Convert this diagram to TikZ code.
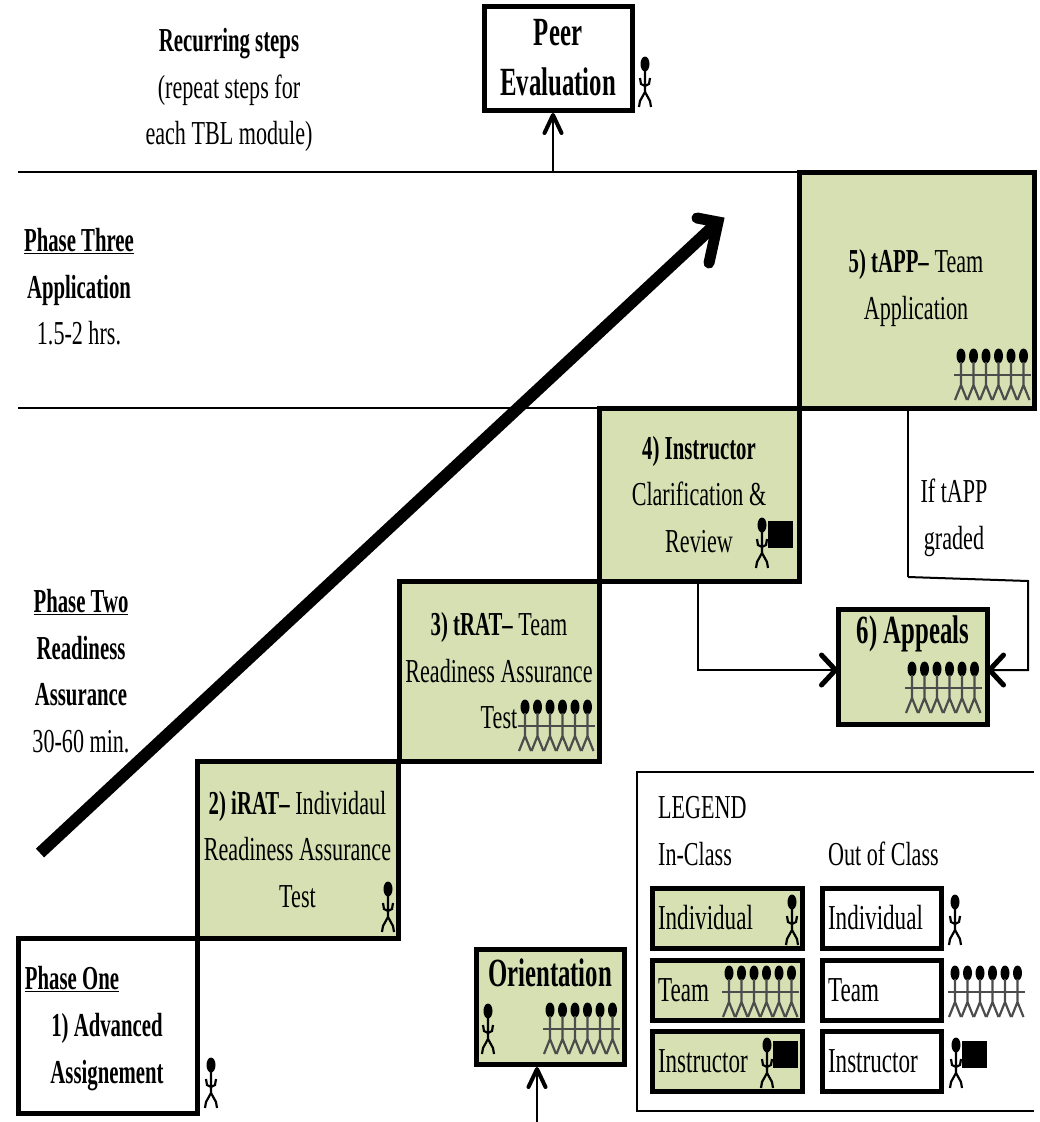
\documentclass[tikz,border=0pt]{standalone}
\usepackage{fontspec}
\setmainfont[FakeStretch=.66,BoldFeatures={FakeStretch=.62}]{Liberation Serif}
\usepackage{tikz}
\usetikzlibrary{positioning,calc}
\usetikzlibrary{arrows.meta}
\definecolor{StepGreen}{RGB}{214,224,178}
\tikzset{
txt/.style={align=center,inner sep=0pt,font=\fontsize{33.5}{46.5}\selectfont},
bigtxt/.style={align=center,inner sep=0pt,font=\bfseries\fontsize{40}{50}\selectfont},
stepin/.style={draw=black,fill=StepGreen,line width=5pt,inner sep=0pt,outer sep=0pt,align=center,font=\fontsize{33.5}{46.5}\selectfont},
stepout/.style={draw=black,fill=white,line width=5pt,inner sep=0pt,outer sep=0pt,align=center,font=\fontsize{33.5}{46.5}\selectfont},
keyin/.style={stepin,line width=5pt,minimum width=150pt,minimum height=60pt,align=left,text width=138pt,font=\fontsize{35}{46.5}\selectfont},
keyout/.style={stepout,line width=5pt,minimum width=119pt,minimum height=60pt,align=left,text width=108pt,font=\fontsize{35}{46.5}\selectfont},
rule/.style={draw=black,line width=2.5pt},
link/.style={draw=black,line width=2pt},
bigtip/.style={-{Straight Barb[length=14pt,width=30pt,line width=5pt,round]}},
smalltip/.style={-{Straight Barb[length=18pt,width=17pt,line width=4pt,round]}},
rise/.style={draw=black,line width=12pt},
risehead/.style={draw=black,line width=11pt,line join=miter,line cap=round,miter limit=10},
pics/stick/.style={code={
\fill[black] (0,7) ellipse (4.5pt and 7.5pt);
\draw[line width=2.2pt,draw=black] (0,13) -- (0,35) (-5,21) -- (-4,27) -- (0,29) -- (4,27) -- (5,21) (-6,50) -- (-5,44) -- (0,35) -- (5,44) -- (6,50);
}},
pics/team/.style={code={
\foreach \i in {0,...,5}{
\fill[black] (12.5*\i,7) ellipse (4.5pt and 7.5pt);
\draw[line width=2.2pt,draw=black!70] (12.5*\i,13) -- (12.5*\i,36) (12.5*\i-6,51) -- (12.5*\i,36) -- (12.5*\i+6,51);
}
\draw[line width=2.4pt,draw=black!70] (-7,26) -- (69.5,26);
}},
pics/teacher/.style={code={
\pic at (0,0) {stick};
\fill[black] (5.5,3) rectangle (31,30);
}}
}
\begin{document}
\begin{tikzpicture}[x=1pt,y=-1pt]
\useasboundingbox (0,0) rectangle (1039,1122);
\coordinate (ruletopa) at (18,172);
\coordinate (ruletopb) at (799,172);
\coordinate (rulemida) at (18,408);
\coordinate (rulemidb) at (599,408);
\draw[rule] (ruletopa) -- (ruletopb);
\draw[rule] (rulemida) -- (rulemidb);
\coordinate (riseA) at (40,853);
\coordinate (riseB) at (718,222);
\coordinate (riseC) at (697,218);
\coordinate (riseD) at (709,263);
\draw[rise] (riseA) -- (riseB);
\draw[risehead] (riseC) -- (riseB) -- (riseD);
\node[stepout,minimum width=148pt,minimum height=104pt,font=\bfseries\fontsize{40}{50}\selectfont] (peer) at (558,58) {Peer\\Evaluation};
\node[stepin,minimum width=235pt,minimum height=236pt] (stepfive) at (916.5,290) {};
\node[txt] (stepfivetext) at (916,288) {\textbf{5) tAPP–} Team\\Application};
\node[stepin,minimum width=200pt,minimum height=173pt] (stepfour) at (699,494.5) {\textbf{4) Instructor}\\Clarification \&\\Review\hspace{2pt}};
\node[stepin,minimum width=200pt,minimum height=180pt] (stepthree) at (499,671) {\textbf{3) tRAT–} Team\\Readiness Assurance\\Test\hspace{38pt}};
\node[stepin,minimum width=201pt,minimum height=177pt] (steptwo) at (297.5,849.5) {\textbf{2) iRAT–} Individaul\\Readiness Assurance\\Test};
\node[stepout,minimum width=179pt,minimum height=175pt] (stepone) at (107.5,1025.5) {};
\node[txt,font=\bfseries\fontsize{33.5}{46.5}\selectfont] (stepweb) at (107,1052) {1) Advanced\\Assignement};
\node[stepin,minimum width=148pt,minimum height=115pt] (orient) at (550,1006.5) {};
\node[bigtxt] (orienttext) at (550,973) {Orientation};
\node[stepin,minimum width=149pt,minimum height=115pt] (appeals) at (912.5,666.5) {};
\node[bigtxt] (appealstext) at (913,634) {6) Appeals};
\node[txt,font=\bfseries\fontsize{33.5}{46.5}\selectfont] (phaseone) at (72,979) {\underline{Phase One}};
\node[txt] (recurring) at (229,90) {\textbf{Recurring steps}\\(repeat steps for\\each TBL module)};
\node[txt] (phasethree) at (79,287) {\textbf{\underline{Phase Three}}\\\textbf{Application}\\1.5-2 hrs.};
\node[txt] (phasetwo) at (81,671) {\textbf{\underline{Phase Two}}\\\textbf{Readiness}\\\textbf{Assurance}\\30-60 min.};
\node[txt] (graded) at (954,518) {If tAPP\\graded};
\coordinate (peerfoot) at (553,172);
\draw[link,smalltip,shorten >=3pt] (peerfoot) -- (peerfoot |- peer.south);
\coordinate (orientfoot) at (537,1122);
\draw[link,smalltip,shorten >=3pt] (orientfoot) -- (orientfoot |- orient.south);
\coordinate (clarbend) at (698,670);
\draw[link,bigtip] (clarbend |- stepfour.south) -- (clarbend) -- (clarbend -| appeals.west);
\coordinate (gradeda) at (908,577);
\coordinate (gradedb) at (1028,581);
\coordinate (gradedc) at (1028,670);
\draw[link] (gradeda |- stepfive.south) -- (gradeda);
\draw[link,bigtip] (gradeda) -- (gradedb) -- (gradedc) -- (gradedc -| appeals.east);
\coordinate (keya) at (1034,772);
\coordinate (keyb) at (637,772);
\coordinate (keyc) at (637,1111);
\coordinate (keyd) at (1034,1111);
\draw[rule] (keya) -- (keyb) -- (keyc) -- (keyd);
\node[txt,anchor=west] (legend) at (658,808) {LEGEND};
\node[txt,anchor=west] (inclass) at (658,854) {In-Class};
\node[txt,anchor=west] (outclass) at (828,854) {Out of Class};
\node[keyin] (keyindin) at (727,918) {Individual};
\node[keyin] (keyteamin) at (727,990) {Team};
\node[keyin] (keyinsin) at (727,1061) {Instructor};
\node[keyout] (keyindout) at (882,918) {Individual};
\node[keyout] (keyteamout) at (882,990) {Team};
\node[keyout] (keyinsout) at (882,1061) {Instructor};
\pic at (645,57) {stick};
\pic at (211,1058) {stick};
\pic at (388,882) {stick};
\pic at (488,1004) {stick};
\pic at (792,895) {stick};
\pic at (955,895) {stick};
\pic at (762,518) {teacher};
\pic at (767,1038) {teacher};
\pic at (956,1038) {teacher};
\pic at (961,349) {team};
\pic at (525,700) {team};
\pic at (550,1003) {team};
\pic at (912,662) {team};
\pic at (729,966) {team};
\pic at (955,966) {team};
\end{tikzpicture}
\end{document}
